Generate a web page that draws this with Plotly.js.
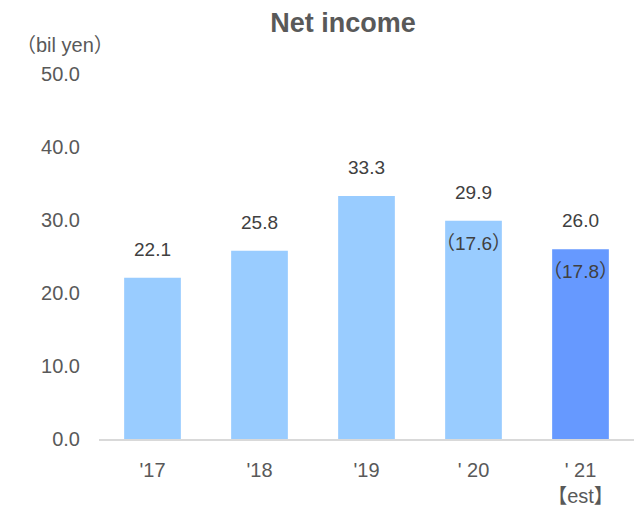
<!DOCTYPE html>
<html>
<head>
<meta charset="utf-8">
<script src="https://cdn.plot.ly/plotly-3.0.1.min.js"></script>
<style>html,body{margin:0;padding:0;background:#fff;}#chart{width:636px;height:510px;}</style>
</head>
<body>
<div id="chart"></div>
<script>
const categories = ["'17", "'18", "'19", "' 20", "' 21<br>【est】"];
const netIncome = [22.1, 25.8, 33.3, 29.9, 26.0];
const valueLabels = ["22.1", "25.8", "33.3", "29.9", "26.0"];
const innerLabels = [null, null, null, "（17.6）", "（17.8）"];
const barColors = ["#99CCFF", "#99CCFF", "#99CCFF", "#99CCFF", "#6699FF"];
const yTicks = [0, 10, 20, 30, 40, 50];
const yTickText = ["0.0", "10.0", "20.0", "30.0", "40.0", "50.0"];

const FONT = "Liberation Sans, Arial, Noto Sans CJK JP, sans-serif";

const annotations = [];
categories.forEach((c, i) => {
  annotations.push({
    x: c, y: netIncome[i], xref: 'x', yref: 'y',
    text: valueLabels[i], showarrow: false,
    yanchor: 'bottom', yshift: 16,
    font: {family: FONT, size: 19, color: '#404040'}
  });
  if (innerLabels[i]) {
    annotations.push({
      x: c, y: netIncome[i], xref: 'x', yref: 'y',
      text: innerLabels[i], showarrow: false,
      yanchor: 'top', yshift: -10,
      font: {family: FONT, size: 19, color: '#404040'}
    });
  }
});
annotations.push({
  xref: 'paper', yref: 'paper', x: -0.158, y: 1.079,
  xanchor: 'left', yanchor: 'middle', showarrow: false,
  text: '（bil yen）',
  font: {family: FONT, size: 20, color: '#595959'}
});

const data = [{
  type: 'bar',
  x: categories,
  y: netIncome,
  marker: {color: barColors},
  hoverinfo: 'none'
}];

const layout = {
  width: 636, height: 510,
  margin: {l: 99, r: 2, t: 74, b: 71, pad: 0},
  paper_bgcolor: '#ffffff', plot_bgcolor: '#ffffff',
  title: {text: '<b>Net income</b>', x: 0.456, xref: 'paper', xanchor: 'center', y: 0.955, yanchor: 'middle',
          font: {family: FONT, size: 27, color: '#595959'}},
  bargap: 0.47,
  showlegend: false,
  xaxis: {
    type: 'category', showgrid: false, zeroline: false,
    showline: true, linecolor: '#D9D9D9', linewidth: 1.5,
    ticks: '', ticklabelstandoff: 12,
    tickfont: {family: FONT, size: 20, color: '#595959'}
  },
  yaxis: {
    range: [0, 50], showgrid: false, zeroline: false, showline: false,
    tickvals: yTicks, ticktext: yTickText, ticks: '',
    ticklabelstandoff: 18,
    tickfont: {family: FONT, size: 20, color: '#595959'}
  },
  annotations: annotations
};

Plotly.newPlot('chart', data, layout, {displayModeBar: false, staticPlot: true});
</script>
</body>
</html>
